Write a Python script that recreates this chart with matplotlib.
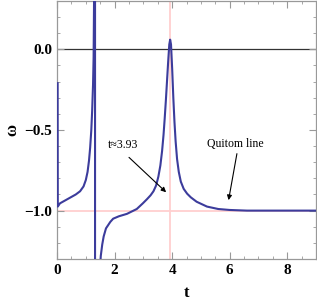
import numpy as np
import matplotlib.pyplot as plt
from matplotlib.ticker import MultipleLocator

plt.rcParams['font.family'] = ['Liberation Serif', 'DejaVu Serif']
plt.rcParams['xtick.direction'] = 'in'
plt.rcParams['ytick.direction'] = 'in'

# omega(t) (values past the frame stand for the pole)
t = [0.02, 0.025, 0.1, 0.3, 0.45, 0.65, 0.8, 0.92, 1.0, 1.06, 1.11, 1.15, 1.19, 1.22,
     1.25, 1.27, 1.29, 1.32, 1.32, 1.48, 1.52, 1.57, 1.62, 1.70, 1.85, 1.95, 2.15,
     2.43, 2.77, 2.98, 3.12, 3.25, 3.35, 3.44, 3.52, 3.59, 3.65, 3.70, 3.74, 3.78,
     3.82, 3.86, 3.90, 3.93, 3.96, 4.00, 4.04, 4.08, 4.12, 4.17, 4.23, 4.30, 4.40,
     4.52, 4.65, 4.85, 5.21, 5.60, 6.00, 6.60, 7.50, 8.20, 9.00]
omega = [-0.21, -0.975, -0.955, -0.935, -0.92, -0.90, -0.88, -0.85, -0.81, -0.76,
         -0.69, -0.61, -0.50, -0.38, -0.22, -0.05, 0.4, 2.0, -2.0, -1.38, -1.28,
         -1.21, -1.16, -1.11, -1.07, -1.05, -1.035, -1.02, -0.99, -0.955, -0.93,
         -0.905, -0.88, -0.845, -0.79, -0.72, -0.63, -0.53, -0.43, -0.32, -0.20,
         -0.08, 0.03, 0.06, 0.03, -0.12, -0.30, -0.45, -0.57, -0.68, -0.76, -0.82,
         -0.865, -0.895, -0.918, -0.945, -0.975, -0.99, -0.996, -1.0, -1.0, -1.0, -1.0]

t_peak = 3.93
t_ticks = [0, 2, 4, 6, 8]
w_ticks = [-1.0, -0.5, 0.0]

fig = plt.figure(figsize=(3.17, 3.04), dpi=100)
ax = fig.add_axes([0.18, 0.148, 0.817, 0.849])

ax.axvline(t_peak, color='#ffcfcf', lw=1.3, zorder=1)
ax.axhline(-1.0, color='#ffcfcf', lw=1.3, zorder=1)
ax.axhline(0.0, color='#333333', lw=0.9, zorder=1)
ax.plot(t, omega, color='#3c3c9c', lw=1.5, zorder=3)

ax.set_xlim(0, 9)
ax.set_ylim(-1.3, 0.3)
ax.set_xticks(t_ticks)
ax.set_yticks(w_ticks)
ax.set_xticklabels([str(v) for v in t_ticks])
ax.set_yticklabels(['\u22121.0', '\u22120.5', '0.0'])
ax.xaxis.set_minor_locator(MultipleLocator(0.5))
ax.yaxis.set_minor_locator(MultipleLocator(0.1))
ax.tick_params(which='both', top=True, right=True, color='#999999', labelsize=11)
ax.tick_params(which='major', length=5, width=0.8)
ax.tick_params(which='minor', length=2.5, width=0.6)
for lab in ax.get_xticklabels() + ax.get_yticklabels():
    lab.set_fontweight('bold')
for sp in ax.spines.values():
    sp.set_color('#999999')
    sp.set_linewidth(0.9)

ax.set_xlabel('t', fontsize=12, fontweight='bold', labelpad=6)
ax.set_ylabel('\u03c9', fontsize=12, fontweight='bold', rotation=90, labelpad=3)

arrow = dict(arrowstyle='-|>', color='black', lw=0.8, mutation_scale=7,
             shrinkA=0, shrinkB=0)
ax.text(2.28, -0.595, 't\u22483.93', fontsize=8.5, ha='center', va='center')
ax.annotate('', xy=(3.79, -0.886), xytext=(2.50, -0.67), arrowprops=arrow)
ax.text(6.21, -0.59, 'Quitom line', fontsize=8.5, ha='center', va='center')
ax.annotate('', xy=(5.96, -0.935), xytext=(6.25, -0.647), arrowprops=arrow)

fig.savefig('out.png', dpi=100)
